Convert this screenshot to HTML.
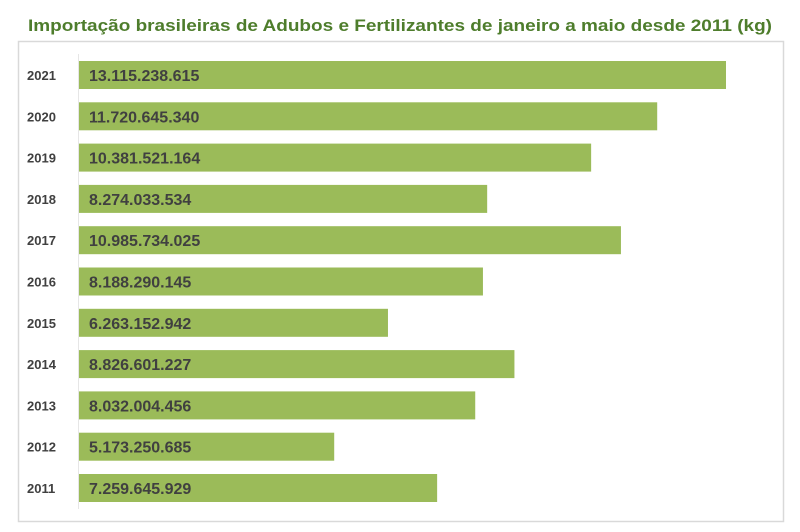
<!DOCTYPE html>
<html><head><meta charset="utf-8"><style>
html,body{margin:0;padding:0;background:#fff;}
svg{display:block;font-family:"Liberation Sans",sans-serif;}
</style></head><body>
<svg id="chart" width="800" height="532" viewBox="0 0 800 532">
<text x="400" y="31" text-anchor="middle" font-size="17" font-weight="bold" fill="#4e7d2c" textLength="744" lengthAdjust="spacingAndGlyphs">Importação brasileiras de Adubos e Fertilizantes de janeiro a maio desde 2011 (kg)</text>
<rect x="18.5" y="41.5" width="765" height="480" fill="#fff" stroke="#d9d9d9" stroke-width="1.5"/>
<line x1="78.5" y1="54" x2="78.5" y2="509" stroke="#e6e6e6" stroke-width="1"/>
<g id="bars"></g>
</svg>
<script>
const categories = ["2021","2020","2019","2018","2017","2016","2015","2014","2013","2012","2011"];
const values = [13115238615,11720645340,10381521164,8274033534,10985734025,8188290145,6263152942,8826601227,8032004456,5173250685,7259645929];
const valueLabels = ["13.115.238.615","11.720.645.340","10.381.521.164","8.274.033.534","10.985.734.025","8.188.290.145","6.263.152.942","8.826.601.227","8.032.004.456","5.173.250.685","7.259.645.929"];
const NS="http://www.w3.org/2000/svg";
const g=document.getElementById('bars');
const x0=79, pxPerUnit=647/13115238615;
const xScale=v=>v*pxPerUnit;
const yTop=i=>61+i*41.3;
const barH=28;
categories.forEach((c,i)=>{
  const r=document.createElementNS(NS,'rect');
  r.setAttribute('x',x0);r.setAttribute('y',yTop(i));
  r.setAttribute('width',xScale(values[i]));r.setAttribute('height',barH);
  r.setAttribute('fill','#9bbb59');
  
  
  g.appendChild(r);
  const t=document.createElementNS(NS,'text');
  t.setAttribute('x',27);t.setAttribute('y',yTop(i)+barH/2+5);
  t.setAttribute('font-size','13');t.setAttribute('font-weight','bold');t.setAttribute('fill','#404040');
  t.textContent=c;
  
  
  g.appendChild(t);
  const v=document.createElementNS(NS,'text');
  v.setAttribute('x',89);v.setAttribute('y',yTop(i)+barH/2+6);
  v.setAttribute('font-size','16');v.setAttribute('font-weight','bold');v.setAttribute('fill','#404040');
  v.textContent=valueLabels[i];
  
  
  g.appendChild(v);
});
</script>
</body></html>
